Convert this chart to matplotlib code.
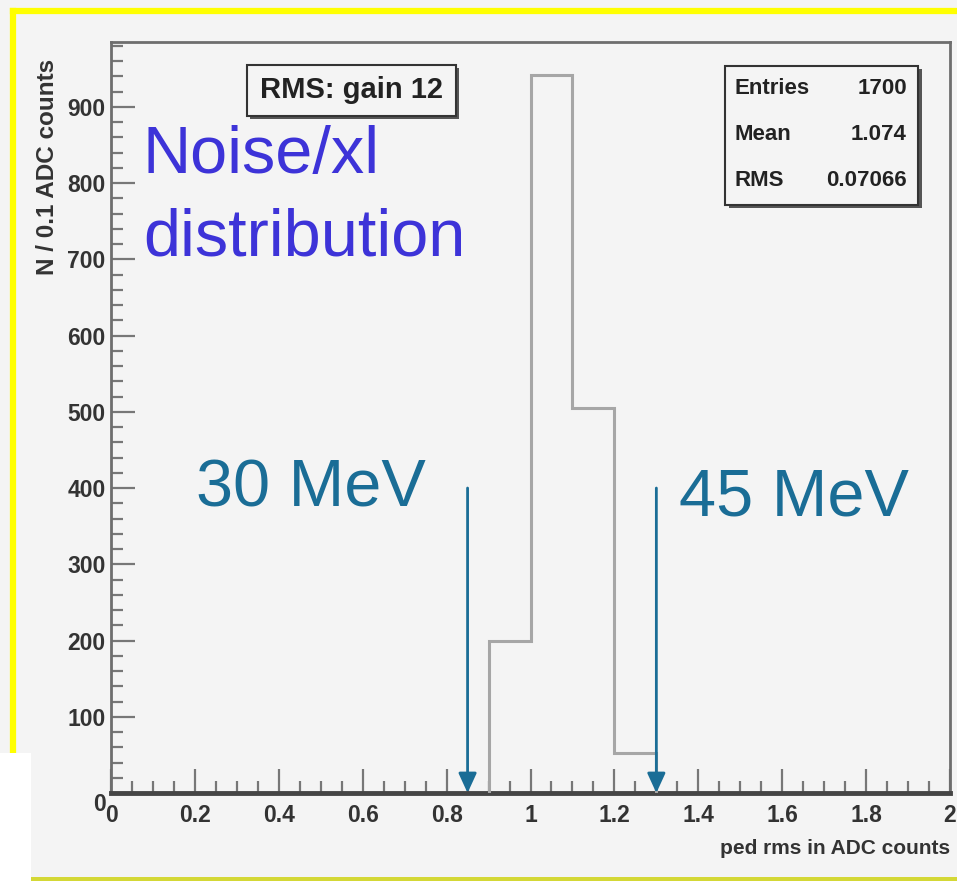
import matplotlib
matplotlib.use("Agg")
import matplotlib.pyplot as plt
from matplotlib.patches import Rectangle
from matplotlib.lines import Line2D
from matplotlib.ticker import MultipleLocator

# ---- data ----
bin_edges = [0.9, 1.0, 1.1, 1.2, 1.3]
bin_counts = [200, 942, 505, 53]
arrow_x = [0.85, 1.30]
arrow_top = [400, 400]
arrow_labels = ["30 MeV", "45 MeV"]
stats_names = ["Entries", "Mean", "RMS"]
stats_values = ["1700", "1.074", "0.07066"]
x_ticks = [0, 0.2, 0.4, 0.6, 0.8, 1, 1.2, 1.4, 1.6, 1.8, 2]
x_tick_labels = ["0", "0.2", "0.4", "0.6", "0.8", "1", "1.2", "1.4", "1.6", "1.8", "2"]
y_ticks = [0, 100, 200, 300, 400, 500, 600, 700, 800, 900]
title_text = "RMS: gain 12"
note_text = ["Noise/xl", "distribution"]
x_label = "ped rms in ADC counts"
y_label = "N / 0.1 ADC counts"

W, H = 957, 881
BG = "#f4f4f4"
fig = plt.figure(figsize=(W / 100, H / 100), dpi=100, facecolor=BG)


def fx(x):
    return x / W


def fy(y):
    return 1 - y / H


SANS = ["Liberation Sans", "DejaVu Sans"]

# decorative frame (yellow border lines, white cut-out, bottom strip)
fig.lines.append(Line2D([fx(13), fx(13)], [fy(754), fy(11)], transform=fig.transFigure,
                        color="#ffff00", lw=4.5, solid_capstyle="projecting", zorder=0))
fig.lines.append(Line2D([fx(13), 1.01], [fy(11), fy(11)], transform=fig.transFigure,
                        color="#ffff00", lw=4.5, solid_capstyle="projecting", zorder=0))
fig.patches.append(Rectangle((0, 0), fx(31), fy(753), transform=fig.transFigure,
                             facecolor="white", edgecolor="none", zorder=1))
fig.patches.append(Rectangle((fx(31), 0), 1, fy(877), transform=fig.transFigure,
                             facecolor="#d4d836", edgecolor="none", zorder=1))

# axes
L, R, T, B = 111, 950, 42, 793
ax = fig.add_axes([fx(L), fy(B), fx(R) - fx(L), fy(T) - fy(B)])
ax.set_facecolor(BG)
ax.set_xlim(0, 2)
ax.set_ylim(0, 985)

ax.stairs(bin_counts, bin_edges, color="#a6a6a6", lw=2.2, zorder=3)

for xa, yt in zip(arrow_x, arrow_top):
    ax.annotate("", xy=(xa, 0), xytext=(xa, yt),
                arrowprops=dict(arrowstyle="-|>,head_length=1.2,head_width=0.55",
                                color="#1a6d96", lw=2.0, shrinkA=0, shrinkB=0),
                zorder=4)

for s in ["top", "right", "left"]:
    ax.spines[s].set_color("#6e6e6e")
    ax.spines[s].set_linewidth(2.0)
ax.spines["bottom"].set_color("#454545")
ax.spines["bottom"].set_linewidth(3.5)

ax.set_xticks(x_ticks)
ax.set_xticklabels(x_tick_labels)
ax.set_yticks(y_ticks)
ax.xaxis.set_minor_locator(MultipleLocator(0.05))
ax.yaxis.set_minor_locator(MultipleLocator(20))
ax.tick_params(axis="both", which="major", direction="in", length=17,
               width=1.6, color="#777777", top=False, right=False)
ax.tick_params(axis="both", which="minor", direction="in", length=8.5,
               width=1.6, color="#777777", top=False, right=False)
ax.tick_params(axis="x", pad=8)
ax.tick_params(axis="y", pad=4)
for lab in ax.get_xticklabels() + ax.get_yticklabels():
    lab.set_family(SANS)
    lab.set_fontsize(16.5)
    lab.set_fontweight("bold")
    lab.set_color("#333333")
ax.get_yticklabels()[0].set_va("top")

# axis labels
fig.text(fx(950), fy(848), x_label, ha="right", va="center",
         family=SANS, fontsize=15, fontweight="bold", color="#333333")
fig.text(fx(48), fy(167), y_label, ha="center", va="center", rotation=90,
         family=SANS, fontsize=17.5, fontweight="bold", color="#333333")

# title box
fig.patches.append(Rectangle((fx(250), fy(119)), fx(459) - fx(250), fy(68) - fy(119),
                             transform=fig.transFigure, facecolor="#555555",
                             edgecolor="none", zorder=5))
fig.patches.append(Rectangle((fx(247), fy(116)), fx(456) - fx(247), fy(65) - fy(116),
                             transform=fig.transFigure, facecolor=BG,
                             edgecolor="#333333", lw=1.5, zorder=6))
fig.text(fx(351), fy(90), title_text, ha="center", va="center", family=SANS,
         fontsize=21, fontweight="bold", color="#222222", zorder=7)

# stats box
fig.patches.append(Rectangle((fx(729), fy(208)), fx(922) - fx(729), fy(69) - fy(208),
                             transform=fig.transFigure, facecolor="#555555",
                             edgecolor="none", zorder=5))
fig.patches.append(Rectangle((fx(725), fy(205)), fx(918) - fx(725), fy(66) - fy(205),
                             transform=fig.transFigure, facecolor=BG,
                             edgecolor="#333333", lw=1.5, zorder=6))
for i, (n, v) in enumerate(zip(stats_names, stats_values)):
    yy = 89 + i * 46
    fig.text(fx(734), fy(yy), n, ha="left", va="center", family=SANS,
             fontsize=16, fontweight="bold", color="#222222", zorder=7)
    fig.text(fx(907), fy(yy), v, ha="right", va="center", family=SANS,
             fontsize=16, fontweight="bold", color="#222222", zorder=7)

# overlay annotations
fig.text(fx(143), fy(173), note_text[0], ha="left", va="baseline", family=SANS,
         fontsize=48, color="#3d33d8", zorder=7)
fig.text(fx(143), fy(256), note_text[1], ha="left", va="baseline", family=SANS,
         fontsize=48, color="#3d33d8", zorder=7)
fig.text(fx(196), fy(507), arrow_labels[0], ha="left", va="baseline", family=SANS,
         fontsize=48, color="#1a6d96", zorder=7)
fig.text(fx(679), fy(515), arrow_labels[1], ha="left", va="baseline", family=SANS,
         fontsize=48, color="#1a6d96", zorder=7)

fig.savefig("out.png", dpi=100, facecolor=BG)
